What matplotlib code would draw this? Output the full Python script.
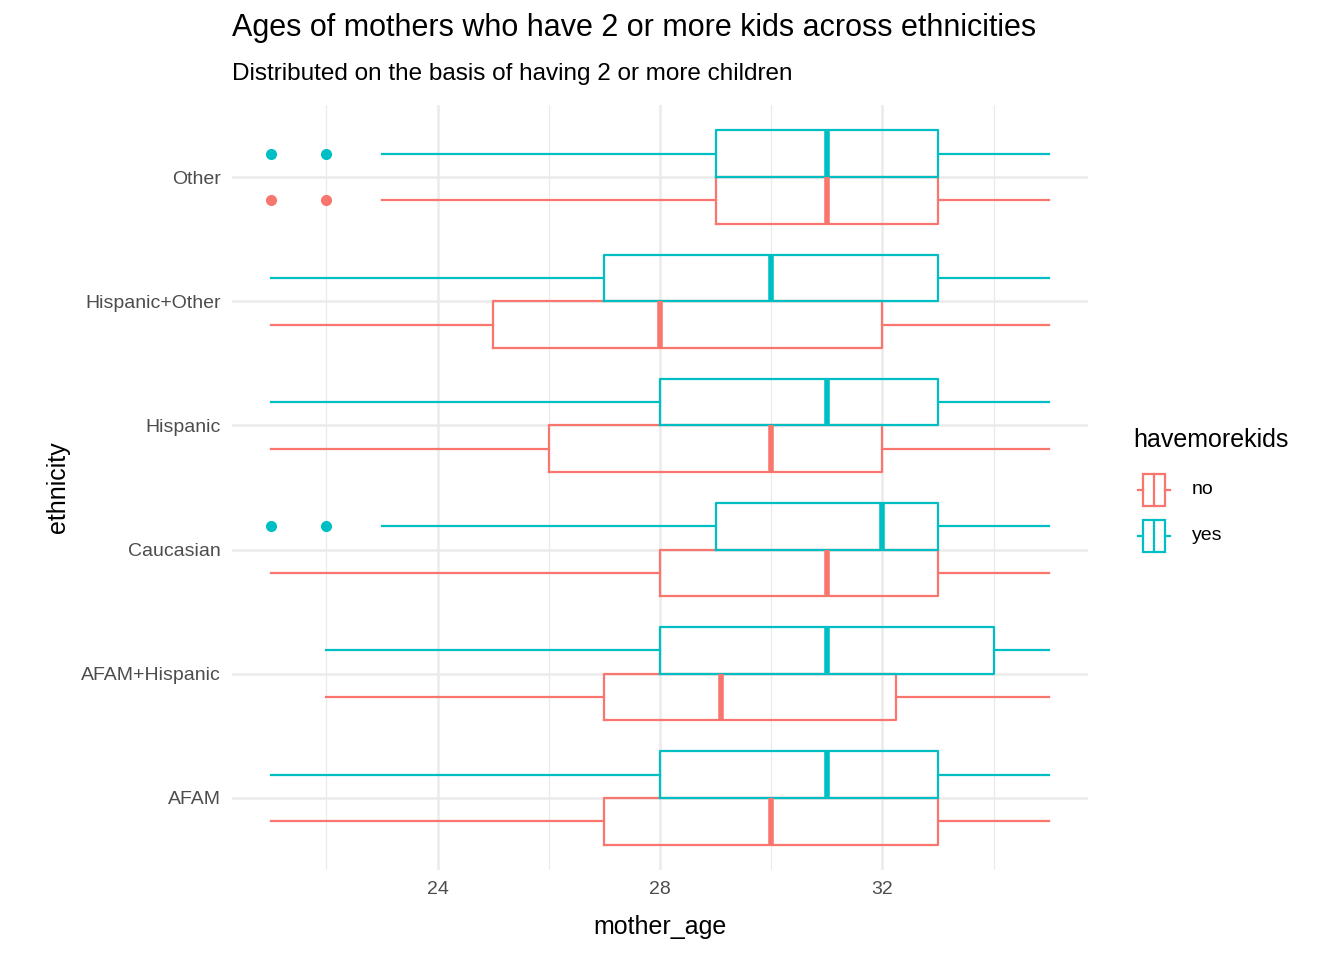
import matplotlib
matplotlib.use("Agg")
import matplotlib.pyplot as plt
from matplotlib.patches import Rectangle
from matplotlib.lines import Line2D

plt.rcParams['font.family'] = ['Liberation Sans', 'DejaVu Sans']

categories = ["AFAM", "AFAM+Hispanic", "Caucasian", "Hispanic", "Hispanic+Other", "Other"]
# (whislo, q1, med, q3, whishi, outliers)
no_stats = [
    (21, 27, 30, 33, 35, []),
    (22, 27, 29.1, 32.25, 35, []),
    (21, 28, 31, 33, 35, []),
    (21, 26, 30, 32, 35, []),
    (21, 25, 28, 32, 35, []),
    (23, 29, 31, 33, 35, [21, 22]),
]
yes_stats = [
    (21, 28, 31, 33, 35, []),
    (22, 28, 31, 34, 35, []),
    (23, 29, 32, 33, 35, [21, 22]),
    (21, 28, 31, 33, 35, []),
    (21, 27, 30, 33, 35, []),
    (23, 29, 31, 33, 35, [21, 22]),
]
groups = ["no", "yes"]
colors = {"no": "#F8766D", "yes": "#00BFC4"}

fig = plt.figure(figsize=(13.44, 9.6), dpi=100)
ax = fig.add_axes([232/1344, 1-870/960, (1088-232)/1344, (870-105)/960])

def mk(s, label):
    return dict(whislo=s[0], q1=s[1], med=s[2], q3=s[3], whishi=s[4], fliers=s[5], label=label)

for g, stats, off in [("no", no_stats, -0.1875), ("yes", yes_stats, 0.1875)]:
    c = colors[g]
    pos = [i + 1 + off for i in range(len(categories))]
    ax.bxp([mk(s, cat) for s, cat in zip(stats, categories)], positions=pos, vert=False,
           widths=0.375, showcaps=False, manage_ticks=False,
           boxprops=dict(color=c, linewidth=1.6), whiskerprops=dict(color=c, linewidth=1.6),
           medianprops=dict(color=c, linewidth=4),
           flierprops=dict(marker="o", markerfacecolor=c, markeredgecolor=c, markersize=7))

ax.set_xlim(20.3, 35.7)
ax.set_ylim(0.42, 6.58)
ax.set_yticks(range(1, 7))
ax.set_yticklabels(categories)
ax.set_xticks([24, 28, 32])
ax.set_xticks([22, 26, 30, 34], minor=True)
ax.grid(True, which="major", color="#EBEBEB", linewidth=1.8)
ax.grid(True, which="minor", axis="x", color="#EBEBEB", linewidth=0.9)
ax.set_axisbelow(True)
for sp in ax.spines.values():
    sp.set_visible(False)
ax.tick_params(length=0, labelsize=14, colors="#4D4D4D", pad=8)
ax.tick_params(which="minor", length=0)
ax.set_xlabel("mother_age", fontsize=18, labelpad=12)
ax.set_ylabel("ethnicity", fontsize=18, labelpad=8)

fig.text(232/1344, 1-28/960, "Ages of mothers who have 2 or more kids across ethnicities", fontsize=22, va="center")
fig.text(232/1344, 1-74/960, "Distributed on the basis of having 2 or more children", fontsize=17.5, va="center")

# legend
fig.text(1133/1344, 1-440/960, "havemorekids", fontsize=18, va="center")
for i, g in enumerate(groups):
    yc = 1 - (490 + 46*i)/960
    c = colors[g]
    fig.add_artist(Line2D([1138/1344, 1143/1344], [yc, yc], color=c, lw=1.6))
    fig.add_artist(Line2D([1165/1344, 1170/1344], [yc, yc], color=c, lw=1.6))
    fig.add_artist(Rectangle((1143/1344, yc - 16/960), 22/1344, 32/960, facecolor="white", edgecolor=c, lw=1.6))
    fig.add_artist(Line2D([1154/1344, 1154/1344], [yc - 16/960, yc + 16/960], color=c, lw=1.6))
    fig.text(1192/1344, yc, g, fontsize=14, va="center")

fig.savefig("out.png", dpi=100)
